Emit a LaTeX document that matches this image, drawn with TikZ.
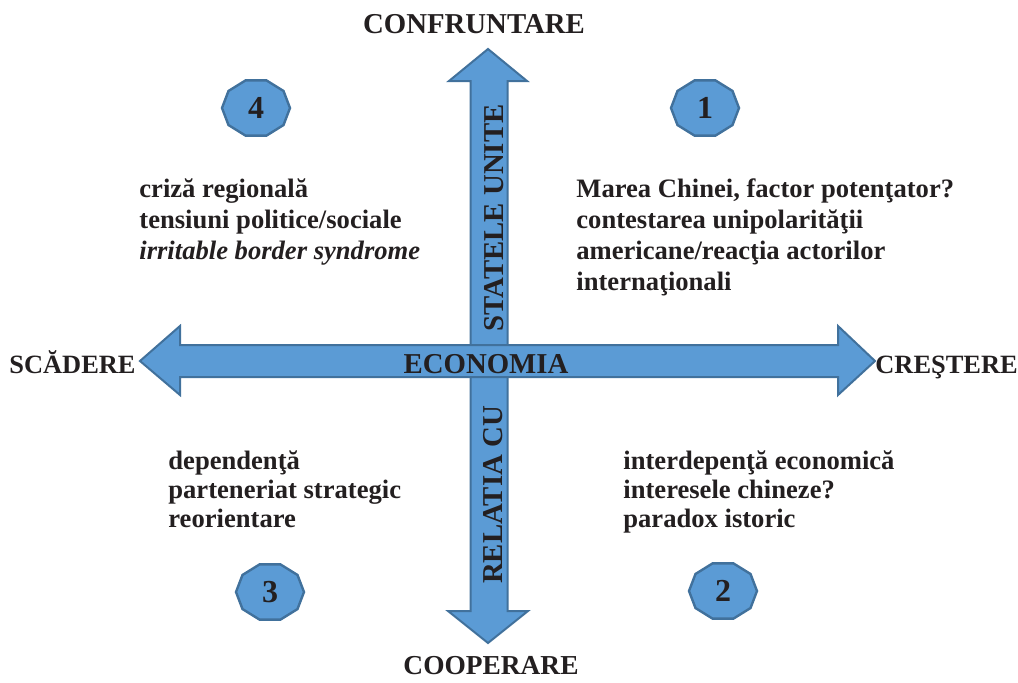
\documentclass[tikz,border=0pt]{standalone}
\usepackage{fontspec}
\setmainfont{Liberation Serif}
\usetikzlibrary{calc}

\definecolor{armfill}{HTML}{5B9BD5}
\definecolor{armline}{HTML}{41719C}
\definecolor{ink}{HTML}{231F20}

\begin{document}
\begin{tikzpicture}[x=0.5pt,y=-0.5pt,
    arm/.style={fill=armfill,draw=armline,line width=1pt,line join=miter},
    badgeshape/.style={fill=armfill,draw=armline,line width=1.2pt},
    badgenum/.style={text=ink,font=\fontsize{16}{18}\selectfont\bfseries,inner sep=0pt},
    caption/.style={text=ink,font=\fontsize{14.4}{17}\selectfont\bfseries,inner sep=0pt},
    endcaption/.style={caption,font=\fontsize{13.2}{16}\selectfont\bfseries},
    bodytext/.style={text=ink,font=\fontsize{13.3}{15.5}\selectfont\bfseries,align=left,inner sep=0pt},
    lowtext/.style={bodytext,font=\fontsize{13.3}{14.5}\selectfont\bfseries}]
  \useasboundingbox (0,0) rectangle (1018,682);
  % Draw axes
  \draw[arm] (488,49) -- (527,81) -- (507.5,81) -- (507.5,611) -- (528,611)
    -- (488,643) -- (448,611) -- (470.5,611) -- (470.5,81) -- (449,81) -- cycle;
  \draw[arm] (140,361) -- (180,326) -- (180,345) -- (838,345) -- (838,326)
    -- (875,361) -- (838,395) -- (838,377) -- (180,377) -- (180,395) -- cycle;
  \node[caption,anchor=base] (econ) at (486,373) {ECONOMIA};
  \node[caption,rotate=90,anchor=base] (sua) at (503,218) {STATELE UNITE};
  \node[caption,rotate=90,anchor=base] (rel) at (502,495) {RELATIA CU};
  % Ends of the axes
  \node[caption,anchor=base] (confr) at (474,33) {CONFRUNTARE};
  \node[caption,anchor=base,font=\fontsize{13.7}{16}\selectfont\bfseries] (coop) at (491,674) {COOPERARE};
  \node[endcaption,anchor=base east] (scad) at (136,373) {SCĂDERE};
  \node[endcaption,anchor=base west] (cresc) at (875,373) {CREŞTERE};
  % Quadrant numbers
  \foreach \nm/\pos/\num in {q1/{705,108}/1,q2/{723,591}/2,q3/{270,592}/3,q4/{256,108}/4} {
    \draw[badgeshape,shift={(\pos)}] (0:34 and 29)
      \foreach \a in {36,72,...,324} {-- (\a:34 and 29)} -- cycle;
    \node[badgenum] (\nm) at (\pos) {\num};
  }
  % Quadrant texts (anchored at the baseline of the last line)
  \node[bodytext,anchor=base west] (t1) at (576,290) {Marea Chinei, factor potenţator?\\
    contestarea unipolarităţii\\americane/reacţia actorilor\\internaţionali};
  \node[bodytext,anchor=base west] (t4) at (139,259) {criză regională\\
    tensiuni politice/sociale\\\textit{irritable border syndrome}};
  \node[lowtext,anchor=base west] (t3) at (168,527) {dependenţă\\
    parteneriat strategic\\reorientare};
  \node[lowtext,anchor=base west] (t2) at (623,527) {interdepenţă economică\\
    interesele chineze?\\paradox istoric};
\end{tikzpicture}
\end{document}
